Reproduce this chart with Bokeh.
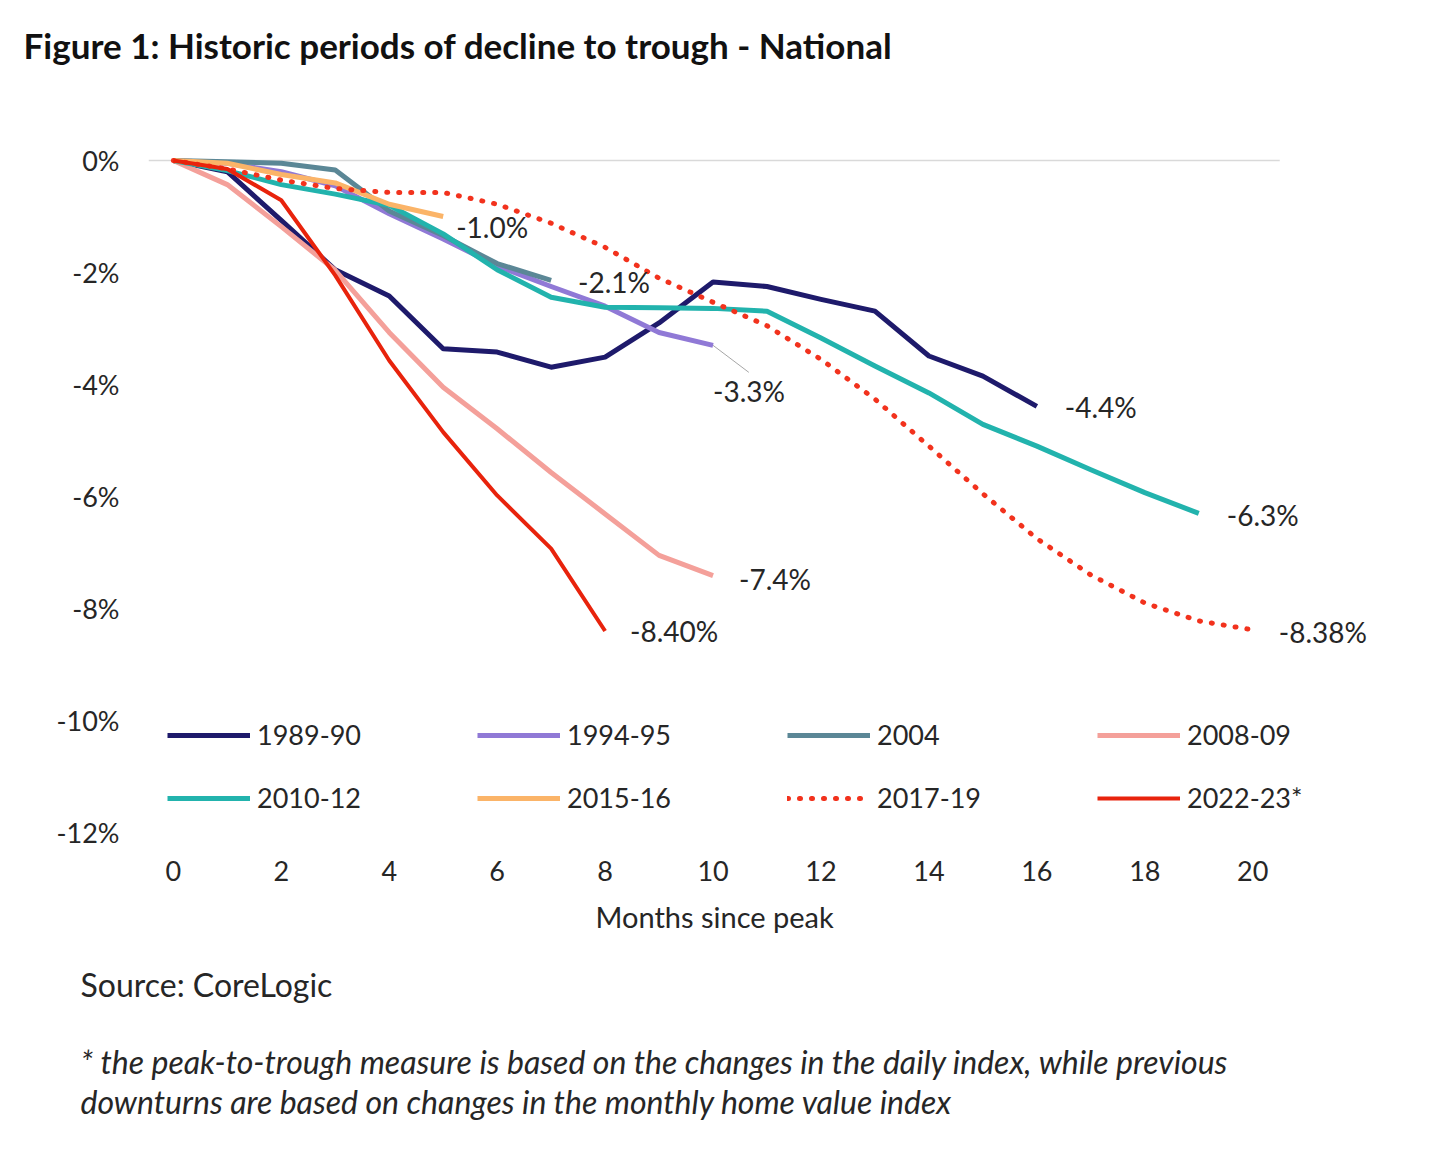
from bokeh.plotting import figure
from bokeh.models import (ColumnDataSource, Legend, LegendItem, Title,
                          FixedTicker, PrintfTickFormatter, Range1d)
from bokeh.core.properties import value
from bokeh.embed import file_html
from bokeh.resources import INLINE

# ---------------- data ----------------
series_names = ["1989-90", "1994-95", "2004", "2008-09",
                "2010-12", "2015-16", "2017-19", "2022-23*"]

s1989 = [0, -0.2, -1.07, -1.95, -2.42, -3.36, -3.42, -3.69, -3.51, -2.9,
         -2.17, -2.25, -2.48, -2.69, -3.49, -3.85, -4.39]
s1994 = [0, -0.05, -0.2, -0.45, -0.95, -1.4, -1.88, -2.25, -2.6, -3.07, -3.3]
s2004 = [0, -0.02, -0.05, -0.17, -0.9, -1.34, -1.84, -2.14]
s2008 = [0, -0.43, -1.18, -1.96, -3.07, -4.05, -4.79, -5.57, -6.31, -7.05, -7.41]
s2010 = [0, -0.18, -0.43, -0.6, -0.8, -1.31, -1.95, -2.44, -2.62, -2.63,
         -2.64, -2.69, -3.17, -3.67, -4.15, -4.71, -5.1, -5.52, -5.93, -6.3]
s2015 = [0, -0.05, -0.25, -0.4, -0.78, -1.0]
s2017 = [0, -0.15, -0.35, -0.5, -0.57, -0.57, -0.78, -1.12, -1.55, -2.1,
         -2.53, -2.95, -3.55, -4.26, -5.1, -5.95, -6.75, -7.4, -7.9, -8.22, -8.38]
s2022 = [0, -0.15, -0.71, -2.05, -3.57, -4.85, -5.98, -6.93, -8.4]

all_series = [s1989, s1994, s2004, s2008, s2010, s2015, s2017, s2022]
end_labels = ["-4.4%", "-3.3%", "-2.1%", "-7.4%", "-6.3%", "-1.0%", "-8.38%", "-8.40%"]

y_ticks = [0, -2, -4, -6, -8, -10, -12]
x_ticks = [0, 2, 4, 6, 8, 10, 12, 14, 16, 18, 20]

# ---------------- styles ----------------
colors = ["#1E1A6B", "#9079D6", "#5B8796", "#F4A09A",
          "#22B3AD", "#FBB468", "#F2321D", "#E8230C"]
widths = [5, 5, 5, 5, 5, 5, 5, 4]
dashes = ["solid"] * 6 + ["1 11", "solid"]
# label pixel offsets from each series' end point (x right, y down)
lab_dx = [28, 0, 27, 26, 28, 13, 26, 25]
lab_dy = [1, 46, 2, 3, 2, 10, 2, 0]

FONT = "Lato"
TXT = "#262626"
FS = "27px"

X_LO, X_HI, AXIS_HI = -0.46, 22.96, 20.5
Y_LO, Y_HI = -12.23, 1.4286
W, H = 1420, 1156
p = figure(width=W, height=H, output_backend="svg", toolbar_location=None,
           x_range=Range1d(X_LO, X_HI), y_range=Range1d(Y_LO, Y_HI),
           min_border_left=148, min_border_right=8,
           min_border_top=80, min_border_bottom=311)
p.outline_line_color = None
p.xgrid.visible = False
p.ygrid.visible = False
p.background_fill_color = "white"
p.border_fill_color = "white"

# 0% line
p.segment(x0=[X_LO], x1=[AXIS_HI], y0=[y_ticks[0]], y1=[y_ticks[0]],
          line_color="#D9D9D9", line_width=1.5, level="underlay")

renderers = []
for ys, c, w, d in zip(all_series, colors, widths, dashes):
    xs = list(range(len(ys)))
    r = p.line(xs, ys, line_color=c, line_width=w, line_dash=d,
               line_cap="round" if d != "solid" else "butt", line_join="round")
    renderers.append(r)

# leader line for 1994-95 label
px_per_x = 54.3
px_per_y = 56.0
lx = len(s1994) - 1
ly = s1994[-1]
p.segment(x0=[lx], y0=[ly], x1=[lx + 36 / px_per_x], y1=[ly - 27 / px_per_y],
          line_color="#A6A6A6", line_width=1)

lab_src = ColumnDataSource(dict(
    x=[len(s) - 1 for s in all_series],
    y=[s[-1] for s in all_series],
    t=end_labels, dx=lab_dx, dy=lab_dy))
p.text(x="x", y="y", text="t", x_offset="dx", y_offset="dy", source=lab_src,
       text_font=value(FONT), text_font_size="28px", text_color=TXT,
       text_baseline="middle", text_align="left")

# axes
p.yaxis.ticker = FixedTicker(ticks=y_ticks)
p.yaxis.formatter = PrintfTickFormatter(format="%d%%")
p.yaxis.axis_line_color = None
p.yaxis.major_tick_line_color = None
p.yaxis.minor_tick_line_color = None
p.yaxis.major_label_standoff = 23
p.yaxis.major_label_text_font = FONT
p.yaxis.major_label_text_font_size = FS
p.yaxis.major_label_text_color = TXT

p.xaxis.ticker = FixedTicker(ticks=x_ticks)
p.xaxis.axis_line_color = None
p.xaxis.major_tick_line_color = None
p.xaxis.minor_tick_line_color = None
p.xaxis.major_tick_out = 0
p.xaxis.major_tick_in = 0
p.xaxis.major_label_standoff = 15
p.xaxis.major_label_text_font = FONT
p.xaxis.major_label_text_font_size = FS
p.xaxis.major_label_text_color = TXT

# legend
items = [LegendItem(label=n, renderers=[r]) for n, r in zip(series_names, renderers)]
legend = Legend(items=items, orientation="horizontal", ncols=4,
                location=(19, 31), padding=0, margin=0, spacing=30,
                glyph_width=83, glyph_height=20, label_height=20, label_width=190,
                label_standoff=7, border_line_color=None, background_fill_alpha=0,
                label_text_font=FONT, label_text_font_size=FS,
                label_text_color=TXT)
p.add_layout(legend, "center")

# titles
p.title.text = "Figure 1: Historic periods of decline to trough - National"
p.title.align = "left"
p.title.offset = -125
p.title.standoff = 30
p.title.text_font = FONT
p.title.text_font_size = "35px"
p.title.text_font_style = "bold"
p.title.text_color = "#111111"

# x-axis title (centred over the 0-20 month span, not the whole frame)
xlab_t = Title(text="Months since peak", align="left", offset=447,
               text_font=FONT, text_font_size="29px", text_font_style="normal",
               text_color=TXT, standoff=26)
p.add_layout(xlab_t, "below")
src_t = Title(text="Source: CoreLogic", align="left", offset=-68,
              text_font=FONT, text_font_size="32px", text_font_style="normal",
              text_color=TXT, standoff=33)
p.add_layout(src_t, "below")
note_t = Title(text="* the peak-to-trough measure is based on the changes in the daily index, while previous\n"
                    "downturns are based on changes in the monthly home value index",
               align="left", offset=-68, text_font=FONT, text_font_size="32px",
               text_font_style="italic", text_color=TXT, text_line_height=1.02,
               standoff=39)
p.add_layout(note_t, "below")

open("out.html", "w").write(file_html(p, INLINE))
